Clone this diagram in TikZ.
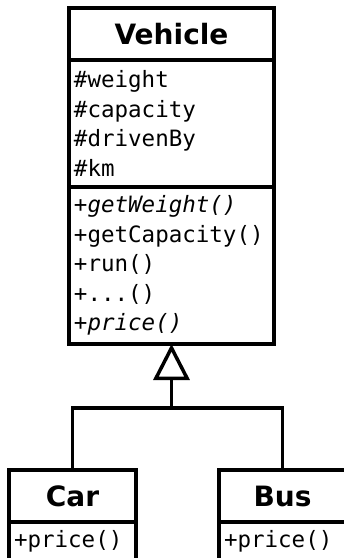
\documentclass[tikz,border=0pt]{standalone}
\usepackage{fontspec}
\setmainfont{DejaVu Sans}
\setmonofont{DejaVu Sans Mono}
\usetikzlibrary{positioning,arrows.meta}

\begin{document}
\begin{tikzpicture}[
    x=1pt, y=-1pt,
    line width=3.5pt,
    classname/.style={draw, outer sep=0pt, inner sep=0pt,
        minimum width=#1, minimum height=52pt,
        font=\fontsize{28}{32}\selectfont\bfseries},
    members/.style={draw, outer sep=0pt, inner xsep=5pt, inner ysep=0pt,
        text width=#1, align=left,
        font=\fontsize{22.5}{29.6}\selectfont\ttfamily},
    inherits/.style={-{Triangle[open,length=36pt,width=36pt]}},
]
    \useasboundingbox (0,0) rectangle (344,558);
    \clip (0,0) rectangle (344,558);%children run off the page

    % base class
    \node[classname=205pt] (vehicle) at (171.5,34) {Vehicle};
    \node[members=195pt, minimum height=127pt, below=0pt of vehicle] (vehicleattr)
        {\#weight\\\#capacity\\\#drivenBy\\\#km};
    \node[members=195pt, minimum height=157pt, below=0pt of vehicleattr] (vehicleops)
        {\textit{+getWeight()}\\+getCapacity()\\+run()\\+...()\\\textit{+price()}};

    % subclasses
    \node[classname=127pt] (car) at (72.5,496) {Car};
    \node[members=117pt, minimum height=38pt, below=0pt of car] (carops) {+price()};
    \node[classname=127pt] (bus) at (282.5,496) {Bus};
    \node[members=117pt, minimum height=38pt, below=0pt of bus] (busops) {+price()};

    % generalization
    \coordinate (join) at (171.5,408);
    \draw (car.north) |- (join);
    \draw (bus.north) |- (join);
    \draw[inherits] (join) -- (vehicleops.south);
\end{tikzpicture}
\end{document}
